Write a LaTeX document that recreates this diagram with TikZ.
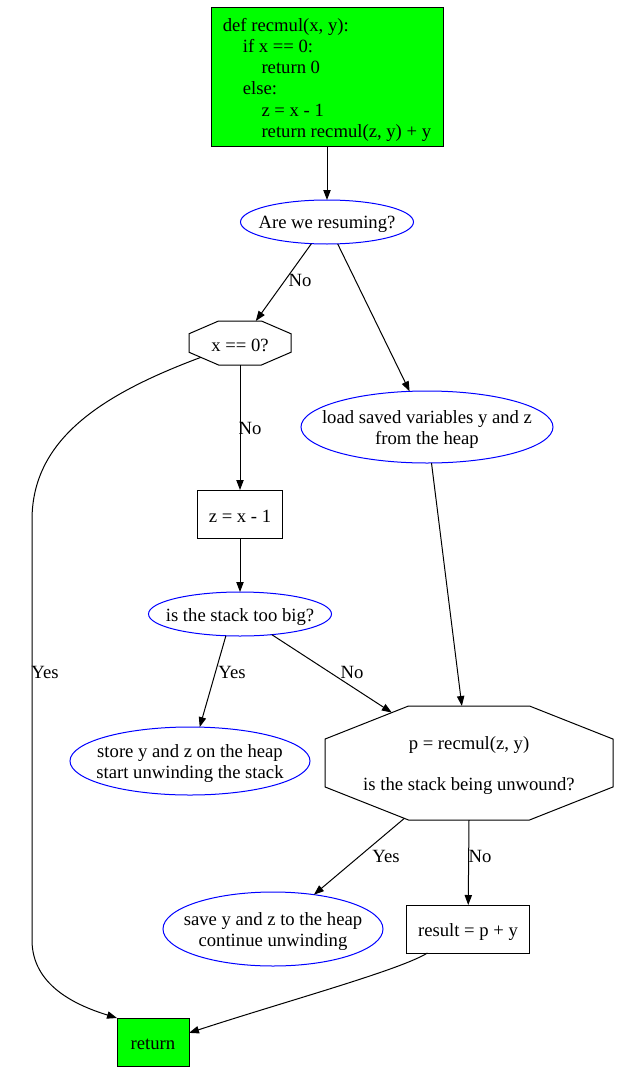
\documentclass[tikz,border=0pt]{standalone}
\usepackage{fontspec}
\setmainfont{Liberation Serif}
\usepackage{tikz}
\usetikzlibrary{arrows.meta, shapes.geometric, calc}

\definecolor{nodegreen}{RGB}{0,255,0}
\definecolor{nodeblue}{RGB}{0,0,255}
\newdimen\pxu
\pxu=0.75pt

\tikzset{
  codebox/.style={draw, fill=nodegreen, rectangle, inner sep=0pt,
    minimum width=232\pxu, minimum height=138\pxu, outer sep=0pt},
  plainbox/.style={draw, rectangle, inner sep=0pt, outer sep=0pt},
  octnode/.style={rectangle, inner sep=0pt, outer sep=0pt},
  blueell/.style={draw=nodeblue, ellipse, inner sep=0pt, outer sep=0pt},
  intext/.style={label={[align=center, inner sep=0pt, yshift=-2pt]center:#1}},
  codetext/.style={label={[align=left, inner sep=0pt, yshift=-2pt,
    font=\fontsize{14}{15.9}\selectfont]center:#1}},
  lbl/.style={inner sep=0pt},
  flow/.style={-{Triangle[length=7.5pt, width=5.5pt]}},
}

% octagon drawn inside the bounding rectangle of a node
\newcommand{\drawoctagon}[1]{%
  \draw ($(#1.north west)!0.29!(#1.north east)$) coordinate (#1-1)
    -- ($(#1.north west)!0.71!(#1.north east)$) coordinate (#1-2)
    -- ($(#1.north east)!0.29!(#1.south east)$) coordinate (#1-3)
    -- ($(#1.north east)!0.71!(#1.south east)$) coordinate (#1-4)
    -- ($(#1.south west)!0.71!(#1.south east)$) coordinate (#1-5)
    -- ($(#1.south west)!0.29!(#1.south east)$) coordinate (#1-6)
    -- ($(#1.north west)!0.71!(#1.south west)$) coordinate (#1-7)
    -- ($(#1.north west)!0.29!(#1.south west)$) coordinate (#1-8)
    -- cycle;}

\begin{document}
\begin{tikzpicture}[x=\pxu, y=-\pxu, line width=\pxu, font=\fontsize{14}{16}\selectfont]
    \useasboundingbox (0,0) rectangle (620,1074);
    % nodes
    \node[codebox, codetext={def recmul(x, y):\\
        \hspace*{15pt}if x == 0:\\
        \hspace*{29pt}return 0\\
        \hspace*{15pt}else:\\
        \hspace*{29pt}z = x - 1\\
        \hspace*{29pt}return recmul(z, y) + y}] (code) at (327,77) {};
    \node[blueell, minimum width=173\pxu, minimum height=44\pxu,
        intext={Are we resuming?}] (resume) at (327,222) {};
    \node[octnode, minimum width=102\pxu, minimum height=44\pxu,
        intext={x == 0?}] (xz) at (240,343) {};
    \drawoctagon{xz}
    \node[blueell, minimum width=252\pxu, minimum height=72\pxu,
        intext={load saved variables y and z\\from the heap}] (load) at (427,427) {};
    \node[plainbox, minimum width=85\pxu, minimum height=48\pxu,
        intext={z = x - 1}] (zdec) at (240,514) {};
    \node[blueell, minimum width=183\pxu, minimum height=44\pxu,
        intext={is the stack too big?}] (big) at (240,614) {};
    \node[blueell, minimum width=240\pxu, minimum height=68\pxu,
        intext={store y and z on the heap\\start unwinding the stack}] (store) at (190,761) {};
    \node[octnode, minimum width=288\pxu, minimum height=114\pxu,
        intext={p = recmul(z, y)\\[15pt]is the stack being unwound?}] (p) at (469,763) {};
    \drawoctagon{p}
    \node[blueell, minimum width=220\pxu, minimum height=74\pxu,
        intext={save y and z to the heap\\continue unwinding}] (save) at (273,929) {};
    \node[plainbox, minimum width=123\pxu, minimum height=48\pxu,
        intext={result = p + y}] (result) at (468,929) {};
    \node[plainbox, fill=nodegreen, minimum width=72\pxu, minimum height=48\pxu,
        intext={return}] (ret) at (153,1042) {};
    % connectors
    \draw[flow] (code) -- (resume);
    \draw[flow] (resume) -- (xz);
    \draw[flow] (resume) -- (load);
    \draw[flow] (xz) -- (zdec);
    \draw[flow] ($(xz-7)!0.4!(xz-6)$) .. controls (100,395) and (32,440) .. (32,520)
        -- (32,940) .. controls (32,985) and (75,1005) .. (ret.north west);
    \draw[flow] (load) -- (p);
    \draw[flow] (zdec) -- (big);
    \draw[flow] (big.237) -- (store.74);
    \draw[flow] (big.327) -- ($(p-8)!0.8!(p-1)$);
    \draw[flow] ($(p-7)!0.95!(p-6)$) -- (save.40);
    \draw[flow] (p.south) -- (result);
    \draw[flow] ($(result.south west)!0.17!(result.south east)$) .. controls (400,970) and (290,1000)
        .. ($(ret.north east)!0.31!(ret.south east)$);
    % edge labels
    \node[lbl] (no1) at (300,280) {No};
    \node[lbl] (no2) at (250,428) {No};
    \node[lbl] (yes1) at (45,672) {Yes};
    \node[lbl] (yes2) at (232,672) {Yes};
    \node[lbl] (no3) at (352,672) {No};
    \node[lbl] (yes3) at (386,856) {Yes};
    \node[lbl] (no4) at (480,856) {No};
\end{tikzpicture}
\end{document}
